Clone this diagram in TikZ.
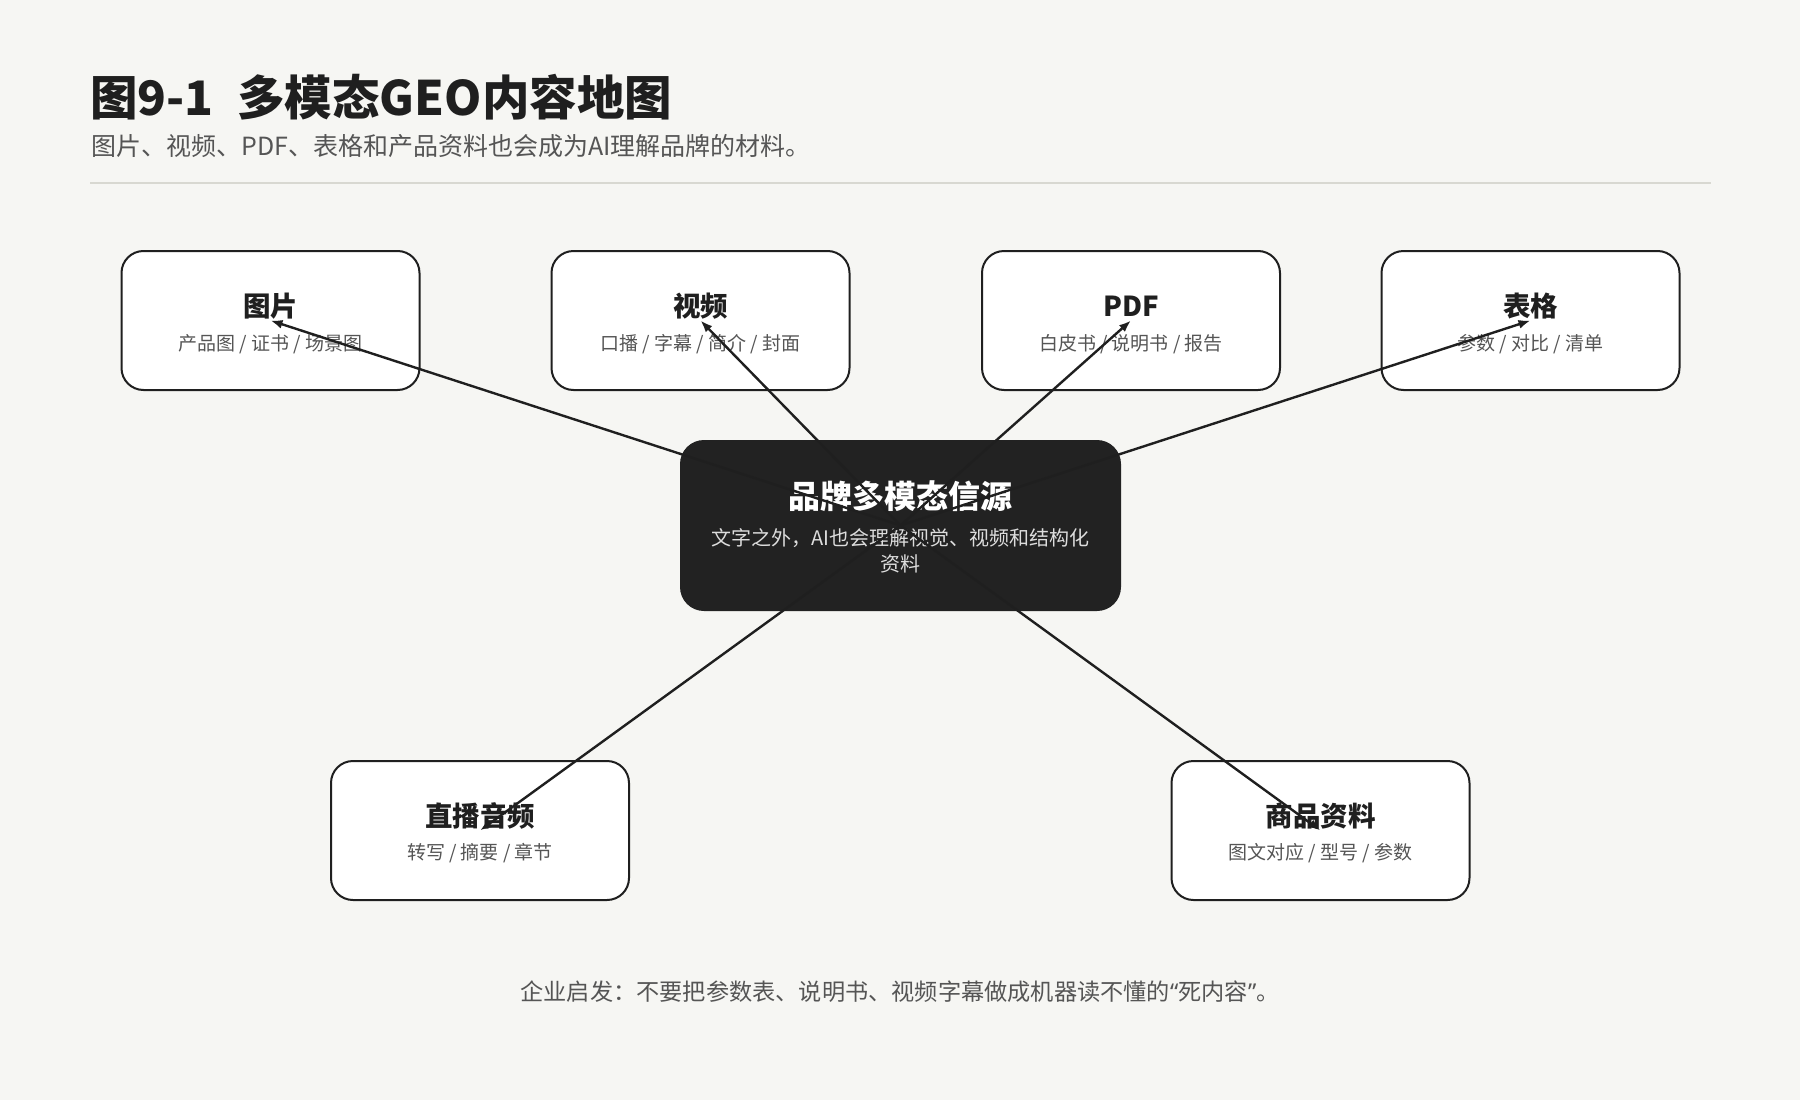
\documentclass[tikz,border=0pt]{standalone}
\usepackage{fontspec}
\setmainfont{Noto Sans CJK SC}
\newfontfamily\latinq{Noto Sans}
\usetikzlibrary{arrows.meta}
\definecolor{bg}{HTML}{F6F6F3}
\definecolor{ink}{HTML}{1F1F1F}
\definecolor{sub}{HTML}{555555}
\definecolor{hubfill}{HTML}{222222}
\definecolor{hubsub}{HTML}{DDDDDD}
\definecolor{rule}{HTML}{D8D8D1}
\begin{document}
\begin{tikzpicture}[x=1pt,y=-1pt,
  card/.style={draw=ink, line width=2pt, fill=white, rounded corners=22pt,
    minimum width=298pt, minimum height=139pt, inner sep=0pt},
  hub/.style={fill=hubfill, rounded corners=24pt, minimum width=441pt,
    minimum height=171pt, inner sep=0pt},
  cardtitle/.style={anchor=base, inner sep=0pt, text=ink,
    font=\fontsize{27.5}{32}\selectfont\bfseries},
  cardsub/.style={anchor=base, inner sep=0pt, text=sub,
    font=\fontsize{19}{22}\selectfont},
  link/.style={draw=ink, line width=2.4pt, -{Latex[length=12pt,width=9pt]}}
]
\useasboundingbox (0,0) rectangle (1800,1100);
\fill[bg] (0,0) rectangle (1800,1100);

% heading
\node[anchor=base west, inner sep=0pt, text=ink,
  font=\fontsize{47.5}{56}\selectfont\bfseries] (title) at (90,115)
  {图9-1\hspace{0.5em}多模态GEO内容地图};
\node[anchor=base west, inner sep=0pt, text=sub,
  font=\fontsize{25}{29}\selectfont] (subtitle) at (91,155.5)
  {图片、视频、PDF、表格和产品资料也会成为AI理解品牌的材料。};
\coordinate (ruleL) at (90,182.5);
\coordinate (ruleR) at (1711,182.5);
\draw[rule, line width=2pt] (ruleL) -- (ruleR);

% cards
\node[card] (img)  at (270.5,320.5) {};
\node[card] (vid)  at (700.5,320.5) {};
\node[card] (pdf)  at (1131,320.5) {};
\node[card] (tab)  at (1530.5,320.5) {};
\node[card] (live) at (480,830.5) {};
\node[card] (prod) at (1320.5,830.5) {};
\node[hub]  (hub)  at (900.5,525.5) {};

% card texts
\node[cardtitle] (imgT)  at (270.5,316) {图片};
\node[cardsub]   (imgS)  at (270.5,350.5) {产品图 / 证书 / 场景图};
\node[cardtitle] (vidT)  at (700.5,316) {视频};
\node[cardsub]   (vidS)  at (700.5,350.5) {口播 / 字幕 / 简介 / 封面};
\node[cardtitle] (pdfT)  at (1131,316) {PDF};
\node[cardsub]   (pdfS)  at (1131,350.5) {白皮书 / 说明书 / 报告};
\node[cardtitle] (tabT)  at (1530.5,316) {表格};
\node[cardsub]   (tabS)  at (1530.5,350.5) {参数 / 对比 / 清单};
\node[cardtitle] (liveT) at (480,826) {直播音频};
\node[cardsub]   (liveS) at (480,859.5) {转写 / 摘要 / 章节};
\node[cardtitle] (prodT) at (1320.5,826) {商品资料};
\node[cardsub]   (prodS) at (1320.5,859.5) {图文对应 / 型号 / 参数};

% hub texts
\node[anchor=base, inner sep=0pt, text=white,
  font=\fontsize{32}{38}\selectfont\bfseries] (hubT) at (900.5,508) {品牌多模态信源};
\node[anchor=base, inner sep=0pt, text=hubsub,
  font=\fontsize{20}{24}\selectfont] (hubS1) at (900.5,545.5)
  {文字之外，AI也会理解视觉、视频和结构化};
\node[anchor=base, inner sep=0pt, text=hubsub,
  font=\fontsize{20}{24}\selectfont] (hubS2) at (900.5,571.5) {资料};

% footer
\node[anchor=base, inner sep=0pt, text=sub,
  font=\fontsize{23.2}{27}\selectfont] (footer) at (900,1000.5)
  {企业启发：不要把参数表、说明书、视频字幕做成机器读不懂的{\latinq “}死内容{\latinq ”}。};

% connectors
\draw[link] (hub.center) -- (img.center);
\draw[link] (hub.center) -- (vid.center);
\draw[link] (hub.center) -- (pdf.center);
\draw[link] (hub.center) -- (tab.center);
\draw[link] (hub.center) -- (live.center);
\draw[link] (hub.center) -- (prod.center);
\end{tikzpicture}
\end{document}
